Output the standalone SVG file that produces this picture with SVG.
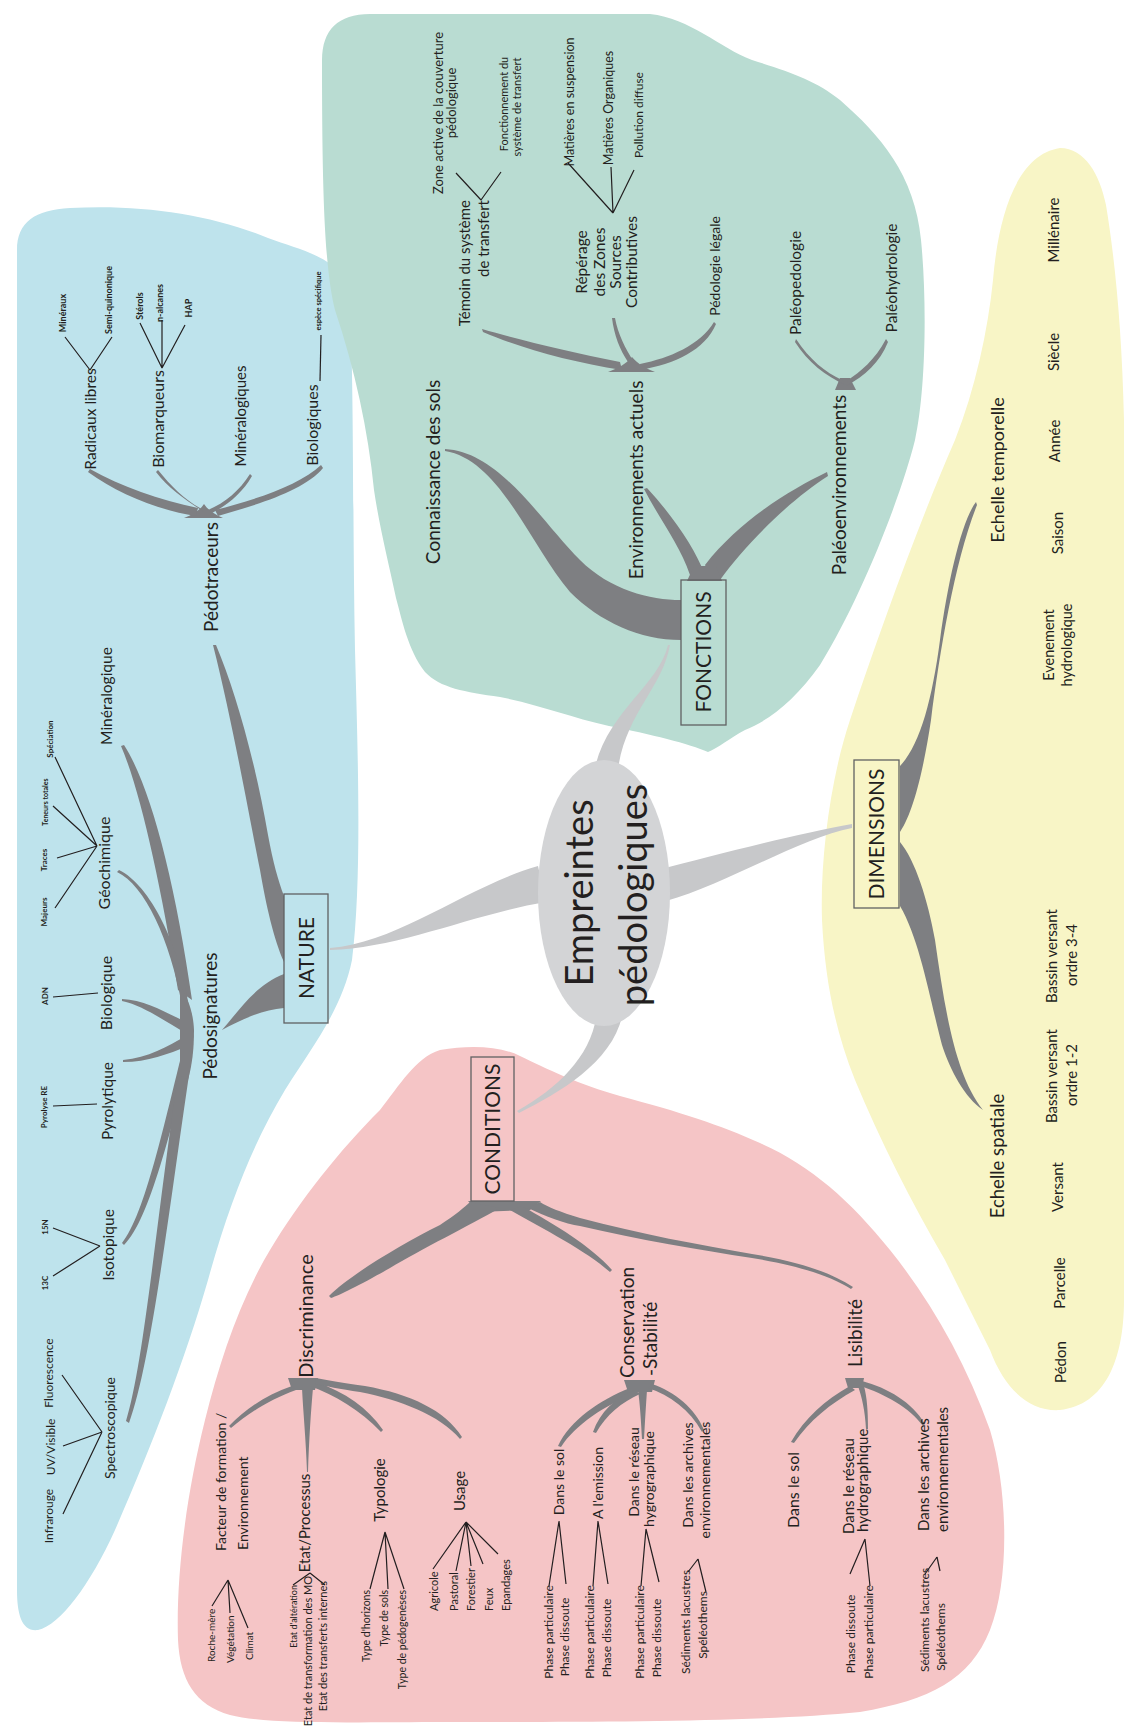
<svg xmlns="http://www.w3.org/2000/svg" width="1128" height="1731" viewBox="0 0 1128 1731">
<style>
text{font-family:Lato,'Liberation Sans',sans-serif;fill:#231f20;text-anchor:middle}
.s{text-anchor:start}.e{text-anchor:end}
.tiny{font-weight:700}
.br{fill:#7e7f82}
.lb{fill:#c7c8ca}
.ln{stroke:#231f20;stroke-width:1.2;fill:none}
.box{fill:none;stroke:#606163;stroke-width:1.3}
</style>
<rect width="1128" height="1731" fill="#ffffff"/>
<g id="zones">
<path id="zone-nature" fill="#bee3ec" d="M17,250 C17,222 35,210 70,208 C140,204 210,214 268,238 C300,250 335,256 347,285 C355,330 352,500 355,650 C358,760 362,880 352,960 C342,1010 310,1050 285,1090 C255,1140 230,1200 208,1280 C185,1360 150,1450 115,1530 C90,1585 60,1625 38,1630 C22,1632 17,1615 17,1590 Z"/>
<path id="zone-fonctions" fill="#b9dcd2" d="M322,60 C322,30 338,14 370,14 L650,14 C690,18 720,48 752,60 C790,72 815,80 840,100 C880,135 915,175 921,240 C927,300 926,390 915,440 C900,500 860,600 820,665 C795,700 770,720 745,730 C730,738 718,748 708,752 C690,744 650,734 609,726 C570,717 540,705 500,697 C465,692 440,688 425,672 C408,650 402,620 396,598 C388,560 380,530 374,490 C368,430 355,370 335,310 C325,270 322,200 322,60 Z"/>
<path id="zone-conditions" fill="#f5c5c6" d="M440,1050 C470,1045 500,1046 520,1056 C545,1068 580,1085 620,1096 C680,1112 720,1125 760,1143 C810,1165 850,1200 890,1250 C930,1300 965,1360 990,1430 C1008,1490 1010,1580 990,1630 C970,1680 930,1700 860,1712 C760,1722 600,1722 450,1722 C350,1722 270,1725 230,1715 C195,1705 180,1680 178,1640 C176,1580 185,1500 205,1420 C220,1360 240,1300 270,1250 C300,1200 340,1150 380,1110 C400,1085 415,1058 440,1050 Z"/>
<path id="zone-dimensions" fill="#f8f5c6" d="M1060,148 C1085,148 1100,175 1106,205 C1115,260 1122,330 1124,420 L1124,1300 C1124,1360 1105,1405 1060,1410 C1030,1412 1005,1390 990,1350 C975,1320 960,1290 945,1260 C910,1200 880,1140 855,1080 C835,1030 825,980 822,920 C820,860 830,780 850,720 C880,630 920,520 955,440 C975,390 988,330 993,280 C998,220 1015,155 1060,148 Z"/>
</g>
<g id="connectors">
<g id="main-branches" class="lb">
<path d="M330,950 C400,948 473,914 546,902 L538,866 C467,886 400,942 330,948 Z"/>
<path d="M670,645 C662,690 622,716 617,778 L593,778 C602,714 658,688 668,645 Z"/>
<path d="M519,1113 C560,1092 614,1062 623,1012 L597,1012 C592,1056 558,1088 517,1111 Z"/>
<path d="M852,824 C800,833 716,855 658,870 L666,901 C724,885 800,838 852,828 Z"/>
</g>
<g id="branches" class="br">
<path d="M213,645 C232,720 248,810 260,870 C266,905 274,940 284,962 L284,896 C278,880 273,862 268,835 C255,760 235,690 216,645 Z"/>
<path d="M222,1030 C238,1012 255,985 284,974 L284,1008 C262,1010 240,1020 222,1030 Z"/>
<path d="M184,518 L223,518 C214,514 208,510 204,504 C200,510 194,514 184,518 Z"/>
<path d="M90,469 C120,486 160,500 198,508 L196,516 C158,510 118,494 88,472 Z"/>
<path d="M158,470 C170,485 185,500 200,508 L204,512 C186,500 168,488 156,472 Z"/>
<path d="M250,474 C240,490 225,503 208,510 L212,513 C228,505 243,492 252,476 Z"/>
<path d="M321,465 C300,485 255,500 215,510 L218,516 C260,504 305,490 323,468 Z"/>
<path d="M121,746 C140,790 160,880 178,990 L192,1000 C175,880 150,785 124,745 Z"/>
<path d="M117,872 C145,885 170,940 182,1005 L190,1012 C180,945 150,885 119,870 Z"/>
<path d="M122,999 C145,1000 165,1012 186,1022 L188,1034 C165,1022 145,1006 122,1001 Z"/>
<path d="M123,1060 C148,1058 168,1046 186,1036 L188,1046 C168,1054 148,1062 123,1062 Z"/>
<path d="M122,1243 C145,1215 165,1120 184,1045 L192,1048 C172,1125 150,1220 124,1245 Z"/>
<path d="M126,1421 C145,1360 158,1200 182,1050 L192,1055 C170,1200 152,1360 129,1423 Z"/>
<path d="M180,985 C188,1000 193,1010 194,1030 C194,1050 192,1065 188,1080 L180,1075 L180,990 Z"/>
<path d="M445,449 C500,452 540,520 580,560 C610,590 650,600 681,600 L681,640 C640,640 600,622 570,592 C530,545 500,460 445,451 Z"/>
<path d="M644,489 C660,520 680,545 690,575 L705,575 C695,548 672,515 647,488 Z"/>
<path d="M827,472 C790,490 740,520 705,565 L712,580 L720,580 C745,545 790,500 828,476 Z"/>
<path d="M687,581 L722,581 L716,566 L694,566 Z"/>
<path d="M482,329 C520,340 570,352 620,362 L622,370 C570,362 520,348 483,332 Z"/>
<path d="M612,318 C614,335 620,350 628,362 L634,362 C625,348 618,334 615,318 Z"/>
<path d="M714,322 C700,345 670,358 640,364 L640,370 C675,364 705,350 716,324 Z"/>
<path d="M608,372 L655,372 C645,368 638,364 632,357 C626,364 618,368 608,372 Z"/>
<path d="M835,390 L856,390 L850,378 L840,378 Z"/>
<path d="M796,339 C810,360 825,372 842,380 L846,385 C825,376 808,362 795,342 Z"/>
<path d="M886,339 C875,360 860,372 848,380 L846,386 C865,376 880,362 888,342 Z"/>
<path d="M468,1201 L541,1201 L530,1210 L478,1212 Z"/>
<path d="M329,1296 C350,1275 400,1245 440,1225 C455,1215 465,1207 470,1202 L500,1208 C470,1225 420,1250 390,1268 C360,1285 340,1295 331,1298 Z"/>
<path d="M610,1272 C585,1250 545,1230 510,1210 L522,1206 C555,1225 590,1245 612,1270 Z"/>
<path d="M853,1287 C830,1272 800,1262 752,1254 C700,1245 640,1234 580,1218 C560,1212 548,1207 540,1202 L528,1208 C545,1216 565,1224 580,1226 C640,1240 700,1250 752,1258 C800,1266 830,1276 851,1289 Z"/>
<path d="M288,1378 L318,1378 L315,1390 L292,1390 Z"/>
<path d="M229,1426 C245,1410 265,1395 292,1386 L296,1390 C268,1400 248,1414 231,1428 Z"/>
<path d="M307,1472 C306,1440 303,1410 302,1388 L313,1388 C311,1410 309,1440 308,1472 Z"/>
<path d="M381,1432 C360,1410 335,1395 310,1386 L316,1382 C345,1392 368,1408 383,1430 Z"/>
<path d="M460,1439 C440,1415 400,1400 360,1392 C340,1389 325,1386 315,1384 L316,1378 C330,1381 345,1383 365,1386 C410,1394 445,1410 462,1437 Z"/>
<path d="M624,1380 L655,1380 L652,1392 L628,1392 Z"/>
<path d="M558,1446 C570,1420 600,1400 630,1388 L636,1393 C605,1405 575,1425 561,1447 Z"/>
<path d="M593,1432 C600,1412 615,1398 635,1390 L640,1394 C622,1402 606,1415 596,1433 Z"/>
<path d="M642,1439 C641,1420 640,1405 638,1390 L647,1390 C646,1405 645,1420 644,1439 Z"/>
<path d="M702,1432 C690,1410 670,1395 648,1388 L652,1384 C675,1392 695,1408 704,1430 Z"/>
<path d="M845,1378 L864,1378 L862,1388 L848,1388 Z"/>
<path d="M791,1442 C805,1418 825,1400 850,1386 L855,1390 C830,1404 810,1420 794,1443 Z"/>
<path d="M866,1429 C865,1410 862,1398 858,1386 L864,1386 C867,1398 868,1410 868,1429 Z"/>
<path d="M923,1426 C910,1408 885,1394 860,1386 L862,1381 C888,1388 912,1402 925,1424 Z"/>
<path d="M976,502 C962,520 948,580 940,640 C932,700 920,745 900,766 L900,832 C915,810 925,760 931,720 C940,650 955,560 977,505 Z"/>
<path d="M900,842 C915,860 928,900 935,940 C945,1010 955,1075 983,1110 C965,1098 950,1070 942,1045 C930,1000 920,940 900,906 Z"/>
</g>
<g id="leaf-lines" class="ln">
<path d="M90,370 L65,337 M90,370 L112,337"/>
<path d="M162,368 L140,323 M162,368 L162,320 M162,368 L185,325"/>
<path d="M320,381 L321,335"/>
<path d="M97,846 L55,908 M97,846 L57,858 M97,846 L53,806 M97,846 L55,757"/>
<path d="M53,997 L98,993"/>
<path d="M53,1106 L97,1104"/>
<path d="M100,1246 L53,1276 M100,1246 L53,1228"/>
<path d="M102,1432 L63,1514 M102,1432 L63,1446 M102,1432 L62,1375"/>
<path d="M481,200 L456,173 M481,200 L501,172"/>
<path d="M613,213 L568,163 M613,213 L611,167 M613,213 L634,170"/>
<path d="M228,1580 L212,1606 M228,1580 L230,1613 M228,1580 L248,1628"/>
<path d="M310,1573 L293,1585 M310,1573 L325,1585"/>
<path d="M385,1532 L370,1589 M385,1532 L388,1589 M385,1532 L404,1589"/>
<path d="M466,1522 L433,1569 M466,1522 L456,1571 M466,1522 L471,1566 M466,1522 L483,1564 M466,1522 L498,1554"/>
<path d="M559,1521 L549,1586 M559,1521 L566,1584"/>
<path d="M598,1521 L593,1586 M598,1521 L608,1584"/>
<path d="M646,1529 L641,1586 M646,1529 L659,1582"/>
<path d="M698,1559 L688,1572 M698,1559 L706,1592"/>
<path d="M865,1539 L850,1574 M865,1539 L870,1586"/>
<path d="M937,1557 L925,1574 M937,1557 L940,1571"/>
</g>
</g>
<g id="center">
<ellipse cx="604" cy="893" rx="66" ry="133" fill="#d3d4d6"/>
<text transform="translate(593,893) rotate(-90)" font-size="38">Empreintes</text>
<text transform="translate(647,895) rotate(-90)" font-size="38">pédologiques</text>
</g>
<g id="nature"><rect class="box" x="284" y="894" width="44" height="129"/><text transform="translate(314,958) rotate(-90)" font-size="21">NATURE</text></g>
<g id="fonctions"><rect class="box" x="681" y="580" width="45" height="145"/><text transform="translate(711,652) rotate(-90)" font-size="21">FONCTIONS</text></g>
<g id="conditions"><rect class="box" x="471" y="1057" width="43" height="144"/><text transform="translate(500,1129) rotate(-90)" font-size="21">CONDITIONS</text></g>
<g id="dimensions"><rect class="box" x="854" y="760" width="45" height="148"/><text transform="translate(884,834) rotate(-90)" font-size="21">DIMENSIONS</text></g>

<g id="pedotraceurs"><text transform="translate(218,577) rotate(-90)" font-size="19">Pédotraceurs</text></g>
<g id="radicaux"><text transform="translate(96,419) rotate(-90)" font-size="15.5">Radicaux libres</text></g>
<g id="biomarqueurs"><text transform="translate(164,419) rotate(-90)" font-size="16">Biomarqueurs</text></g>
<g id="mineralogiques"><text transform="translate(246,416) rotate(-90)" font-size="15">Minéralogiques</text></g>
<g id="biologiques"><text transform="translate(318,425) rotate(-90)" font-size="16">Biologiques</text></g>
<g id="mineraux"><text class="tiny" transform="translate(66,313) rotate(-90)" font-size="9">Minéraux</text></g>
<g id="semiquinonique"><text class="tiny" transform="translate(112,300) rotate(-90)" font-size="9">Semi-quinonique</text></g>
<g id="sterols"><text class="tiny" transform="translate(143,306) rotate(-90)" font-size="9">Stérols</text></g>
<g id="nalcanes"><text class="tiny" transform="translate(163,303) rotate(-90)" font-size="9">n-alcanes</text></g>
<g id="hap"><text class="tiny" transform="translate(192,308) rotate(-90)" font-size="9">HAP</text></g>
<g id="espece"><text class="tiny" transform="translate(321,301) rotate(-90)" font-size="7.5">espèce spécifique</text></g>

<g id="pedosignatures"><text transform="translate(217,1016) rotate(-90)" font-size="19">Pédosignatures</text></g>
<g id="mineralogique"><text transform="translate(112,696) rotate(-90)" font-size="15.5">Minéralogique</text></g>
<g id="geochimique"><text transform="translate(110,863) rotate(-90)" font-size="16">Géochimique</text></g>
<g id="biologique"><text transform="translate(112,993) rotate(-90)" font-size="16">Biologique</text></g>
<g id="pyrolytique"><text transform="translate(113,1101) rotate(-90)" font-size="15.5">Pyrolytique</text></g>
<g id="isotopique"><text transform="translate(114,1245) rotate(-90)" font-size="15.5">Isotopique</text></g>
<g id="spectroscopique"><text transform="translate(115,1428) rotate(-90)" font-size="14">Spectroscopique</text></g>
<g id="majeurs"><text class="tiny" transform="translate(47,912) rotate(-90)" font-size="8">Majeurs</text></g>
<g id="traces"><text class="tiny" transform="translate(47,860) rotate(-90)" font-size="8">Traces</text></g>
<g id="teneurs"><text class="tiny" transform="translate(48,802) rotate(-90)" font-size="7">Teneurs totales</text></g>
<g id="speciation"><text class="tiny" transform="translate(53,739) rotate(-90)" font-size="8">Spéciation</text></g>
<g id="adn"><text class="tiny" transform="translate(48,996) rotate(-90)" font-size="8">ADN</text></g>
<g id="pyrolyse"><text class="tiny" transform="translate(47,1107) rotate(-90)" font-size="8">Pyrolyse RE</text></g>
<g id="n15"><text class="tiny" transform="translate(48,1227) rotate(-90)" font-size="8">15N</text></g>
<g id="c13"><text class="tiny" transform="translate(48,1283) rotate(-90)" font-size="8">13C</text></g>
<g id="infrarouge"><text transform="translate(53,1516) rotate(-90)" font-size="12">Infrarouge</text></g>
<g id="uvvisible"><text transform="translate(55,1447) rotate(-90)" font-size="12">UV/Visible</text></g>
<g id="fluorescence"><text transform="translate(53,1373) rotate(-90)" font-size="12">Fluorescence</text></g>

<g id="connaissance"><text transform="translate(440,472) rotate(-90)" font-size="19">Connaissance des sols</text></g>
<g id="envactuels"><text transform="translate(643,480) rotate(-90)" font-size="19">Environnements actuels</text></g>
<g id="paleoenv"><text transform="translate(846,485) rotate(-90)" font-size="19">Paléoenvironnements</text></g>
<g id="temoin"><text class="e" transform="translate(470,200) rotate(-90)" font-size="15">Témoin du système</text><text class="e" transform="translate(489,200) rotate(-90)" font-size="15">de transfert</text></g>
<g id="reperage"><text transform="translate(587,262) rotate(-90)" font-size="15.5">Répérage</text><text transform="translate(605,262) rotate(-90)" font-size="15.5">des Zones</text><text transform="translate(621,262) rotate(-90)" font-size="15.5">Sources</text><text transform="translate(637,262) rotate(-90)" font-size="15.5">Contributives</text></g>
<g id="pedolegale"><text transform="translate(720,266) rotate(-90)" font-size="14">Pédologie légale</text></g>
<g id="zoneactive"><text transform="translate(443,113) rotate(-90)" font-size="13">Zone active de la couverture</text><text transform="translate(456,103) rotate(-90)" font-size="13">pédologique</text></g>
<g id="fonctionnement"><text transform="translate(508,104) rotate(-90)" font-size="11">Fonctionnement du</text><text transform="translate(521,107) rotate(-90)" font-size="11">système de transfert</text></g>
<g id="mes"><text transform="translate(574,102) rotate(-90)" font-size="12.5">Matières en suspension</text></g>
<g id="mo"><text transform="translate(613,108) rotate(-90)" font-size="12.5">Matières Organiques</text></g>
<g id="pollution"><text transform="translate(643,115) rotate(-90)" font-size="12">Pollution diffuse</text></g>
<g id="paleopedo"><text transform="translate(801,283) rotate(-90)" font-size="15.5">Paléopedologie</text></g>
<g id="paleohydro"><text transform="translate(897,278) rotate(-90)" font-size="15.5">Paléohydrologie</text></g>

<g id="echtemp"><text transform="translate(1004,470) rotate(-90)" font-size="18">Echelle temporelle</text></g>
<g id="echspat"><text transform="translate(1004,1156) rotate(-90)" font-size="18.5">Echelle spatiale</text></g>
<g id="millenaire"><text transform="translate(1059,230) rotate(-90)" font-size="15">Millénaire</text></g>
<g id="siecle"><text transform="translate(1059,352) rotate(-90)" font-size="15">Siècle</text></g>
<g id="annee"><text transform="translate(1060,441) rotate(-90)" font-size="15">Année</text></g>
<g id="saison"><text transform="translate(1063,533) rotate(-90)" font-size="15">Saison</text></g>
<g id="evenement"><text transform="translate(1054,645) rotate(-90)" font-size="14.5">Evenement</text><text transform="translate(1072,645) rotate(-90)" font-size="14.5">hydrologique</text></g>
<g id="bv34"><text transform="translate(1057,956) rotate(-90)" font-size="15">Bassin versant</text><text transform="translate(1077,955) rotate(-90)" font-size="15">ordre 3-4</text></g>
<g id="bv12"><text transform="translate(1057,1076) rotate(-90)" font-size="15">Bassin versant</text><text transform="translate(1077,1075) rotate(-90)" font-size="15">ordre 1-2</text></g>
<g id="versant"><text transform="translate(1063,1187) rotate(-90)" font-size="15">Versant</text></g>
<g id="parcelle"><text transform="translate(1065,1283) rotate(-90)" font-size="15">Parcelle</text></g>
<g id="pedon"><text transform="translate(1066,1362) rotate(-90)" font-size="15">Pédon</text></g>

<g id="discriminance"><text transform="translate(313,1316) rotate(-90)" font-size="20">Discriminance</text></g>
<g id="conservation"><text class="s" transform="translate(634,1378) rotate(-90)" font-size="19">Conservation</text><text class="s" transform="translate(657,1376) rotate(-90)" font-size="19">-Stabilité</text></g>
<g id="lisibilite"><text transform="translate(862,1333) rotate(-90)" font-size="19">Lisibilité</text></g>
<g id="facteur"><text class="s" transform="translate(226,1551) rotate(-90)" font-size="14">Facteur de formation /</text><text class="s" transform="translate(248,1550) rotate(-90)" font-size="14">Environnement</text></g>
<g id="etatproc"><text transform="translate(310,1523) rotate(-90)" font-size="15">Etat/Processus</text></g>
<g id="typologie"><text transform="translate(385,1490) rotate(-90)" font-size="15">Typologie</text></g>
<g id="usage"><text transform="translate(465,1491) rotate(-90)" font-size="15">Usage</text></g>
<g id="rochemere"><text class="s" transform="translate(215,1662) rotate(-90)" font-size="10">Roche-mère</text></g>
<g id="vegetation"><text class="s" transform="translate(234,1663) rotate(-90)" font-size="10">Végétation</text></g>
<g id="climat"><text class="s" transform="translate(253,1660) rotate(-90)" font-size="10">Climat</text></g>
<g id="alteration"><text class="e" transform="translate(297,1585) rotate(-90)" font-size="9">Etat d'altération</text></g>
<g id="transfoMO"><text class="e" transform="translate(312,1576) rotate(-90)" font-size="11">Etat de transformation des MO</text></g>
<g id="transferts"><text class="e" transform="translate(327,1581) rotate(-90)" font-size="11">Etat des transferts internes</text></g>
<g id="typehorizons"><text class="e" transform="translate(370,1590) rotate(-90)" font-size="10.5">Type d'horizons</text></g>
<g id="typesols"><text class="e" transform="translate(388,1590) rotate(-90)" font-size="10.5">Type de sols</text></g>
<g id="typepedo"><text class="e" transform="translate(406,1590) rotate(-90)" font-size="10.5">Type de pédogenèses</text></g>
<g id="agricole"><text class="s" transform="translate(438,1611) rotate(-90)" font-size="11">Agricole</text></g>
<g id="pastoral"><text class="s" transform="translate(458,1611) rotate(-90)" font-size="11">Pastoral</text></g>
<g id="forestier"><text class="s" transform="translate(475,1611) rotate(-90)" font-size="11">Forestier</text></g>
<g id="feux"><text class="s" transform="translate(493,1611) rotate(-90)" font-size="11">Feux</text></g>
<g id="epandages"><text class="s" transform="translate(510,1611) rotate(-90)" font-size="11">Epandages</text></g>
<g id="c-sol"><text transform="translate(564,1482) rotate(-90)" font-size="14">Dans le sol</text></g>
<g id="c-emission"><text transform="translate(603,1483) rotate(-90)" font-size="14">A l'emission</text></g>
<g id="c-reseau"><text transform="translate(639,1472) rotate(-90)" font-size="14">Dans le réseau</text><text transform="translate(654,1479) rotate(-90)" font-size="14">hygrographique</text></g>
<g id="c-archives"><text transform="translate(693,1475) rotate(-90)" font-size="14">Dans les archives</text><text transform="translate(710,1480) rotate(-90)" font-size="14">environnementales</text></g>
<g id="c-sol-pp"><text transform="translate(553,1632) rotate(-90)" font-size="12">Phase particulaire</text></g>
<g id="c-sol-pd"><text transform="translate(569,1637) rotate(-90)" font-size="12">Phase dissoute</text></g>
<g id="c-em-pp"><text transform="translate(594,1632) rotate(-90)" font-size="12">Phase particulaire</text></g>
<g id="c-em-pd"><text transform="translate(611,1638) rotate(-90)" font-size="12">Phase dissoute</text></g>
<g id="c-re-pp"><text transform="translate(644,1632) rotate(-90)" font-size="12">Phase particulaire</text></g>
<g id="c-re-pd"><text transform="translate(661,1638) rotate(-90)" font-size="12">Phase dissoute</text></g>
<g id="c-ar-sl"><text transform="translate(690,1622) rotate(-90)" font-size="12">Sédiments lacustres</text></g>
<g id="c-ar-sp"><text transform="translate(707,1625) rotate(-90)" font-size="12">Spéléothems</text></g>
<g id="l-sol"><text transform="translate(799,1490) rotate(-90)" font-size="16">Dans le sol</text></g>
<g id="l-reseau"><text class="s" transform="translate(854,1534) rotate(-90)" font-size="15">Dans le réseau</text><text class="s" transform="translate(868,1532) rotate(-90)" font-size="15">hydrographique</text></g>
<g id="l-archives"><text class="s" transform="translate(929,1531) rotate(-90)" font-size="15">Dans les archives</text><text class="s" transform="translate(948,1532) rotate(-90)" font-size="15">environnementales</text></g>
<g id="l-re-pd"><text transform="translate(855,1634) rotate(-90)" font-size="12">Phase dissoute</text></g>
<g id="l-re-pp"><text transform="translate(873,1632) rotate(-90)" font-size="12">Phase particulaire</text></g>
<g id="l-ar-sl"><text transform="translate(929,1620) rotate(-90)" font-size="12">Sédiments lacustres</text></g>
<g id="l-ar-sp"><text transform="translate(945,1637) rotate(-90)" font-size="12">Spéléothems</text></g>
</svg>
